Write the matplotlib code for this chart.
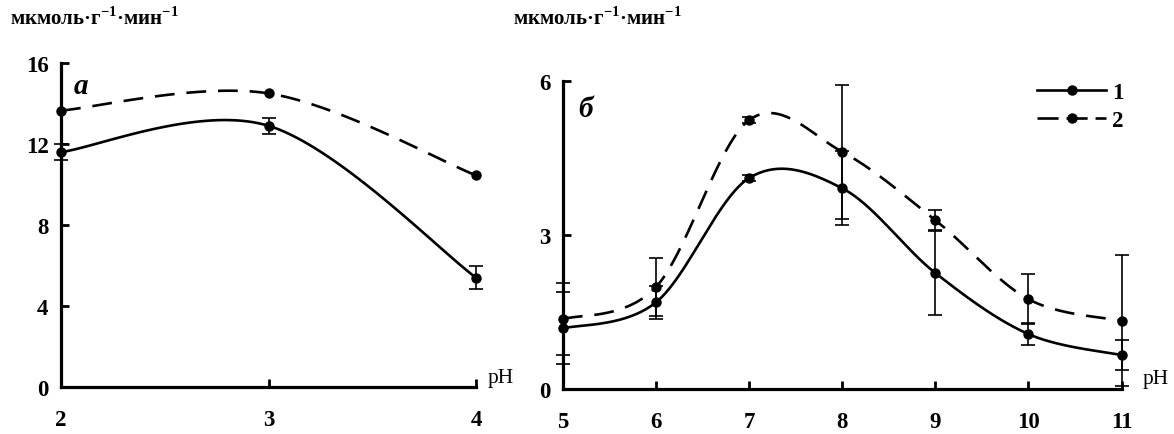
import numpy as np
import matplotlib
matplotlib.use('Agg')
from matplotlib import pyplot as plt

plt.rcParams['font.family'] = ['Liberation Serif', 'DejaVu Serif']
plt.rcParams['mathtext.fontset'] = 'custom'
plt.rcParams['mathtext.rm'] = 'Liberation Serif:bold'
plt.rcParams['mathtext.bf'] = 'Liberation Serif:bold'

# panel a: pH 2-4
ph_a = [2, 3, 4]
a1 = [11.6, 12.9, 5.4]
a1_err = [0.4, 0.4, 0.58]
a2 = [13.65, 14.5, 10.45]

# panel b: pH 5-11
ph_b = [5, 6, 7, 8, 9, 10, 11]
b1 = [1.18, 1.69, 4.11, 3.91, 2.26, 1.07, 0.66]
b1_err = [0.7, 0.32, 0.05, 0.72, 0.81, 0.21, 0.29]
b2 = [1.36, 1.99, 5.24, 4.62, 3.29, 1.75, 1.33]
b2_err = [0.7, 0.57, 0.05, 1.3, 0.2, 0.49, 1.28]

ylabel = 'мкмоль·г$^{-1}$·мин$^{-1}$'


def smooth(xs, ys, n=40):
    # excel-like bezier smoothing
    p = np.column_stack([xs, ys]).astype(float)
    p = np.vstack([p[0], p, p[-1]])
    out = []
    t = np.linspace(0, 1, n)[:, None]
    for i in range(1, len(p) - 2):
        p0, p3 = p[i], p[i + 1]
        c1 = p0 + (p[i + 1] - p[i - 1]) / 6
        c2 = p3 - (p[i + 2] - p[i]) / 6
        seg = ((1 - t) ** 3) * p0 + 3 * ((1 - t) ** 2) * t * c1 + 3 * (1 - t) * t ** 2 * c2 + t ** 3 * p3
        out.append(seg)
    out = np.vstack(out)
    return out[:, 0], out[:, 1]


def style(ax, xlim, ylim, yticks):
    ax.set_xlim(*xlim)
    ax.set_ylim(*ylim)
    ax.set_yticks(yticks)
    ax.set_xticks(range(xlim[0], xlim[1] + 1))
    for s in ['top', 'right']:
        ax.spines[s].set_visible(False)
    for s in ['left', 'bottom']:
        ax.spines[s].set_linewidth(2.3)
    ax.tick_params(direction='in', length=6, width=2)
    ax.tick_params(axis='x', pad=16)
    ax.tick_params(axis='y', pad=9)
    for lab in ax.get_xticklabels() + ax.get_yticklabels():
        lab.set_fontsize(16.5)
        lab.set_fontweight('bold')
    ax.patch.set_visible(False)


def draw(ax, x, y1, e1, y2, e2):
    sx, sy = smooth(x, y1)
    ax.plot(sx, sy, color='black', lw=1.9, clip_on=False, zorder=3)
    sx, sy = smooth(x, y2)
    ax.plot(sx, sy, color='black', lw=1.9, dashes=(7.5, 4.5), clip_on=False, zorder=3)
    ax.plot(x, y1, 'o', color='black', ms=6.5, clip_on=False, zorder=4)
    ax.plot(x, y2, 'o', color='black', ms=6.5, clip_on=False, zorder=4)
    ax.errorbar(x, y1, yerr=e1, fmt='none', ecolor='black', elinewidth=1.2,
                capsize=5, capthick=1.2, clip_on=False, zorder=2)
    if e2 is not None:
        ax.errorbar(x, y2, yerr=e2, fmt='none', ecolor='black', elinewidth=1.2,
                    capsize=5, capthick=1.2, clip_on=False, zorder=2)


fig = plt.figure(figsize=(11.74, 4.35), dpi=100)

ax1 = fig.add_axes([61 / 1174, 47 / 435, 415 / 1174, 324 / 435])
draw(ax1, ph_a, a1, a1_err, a2, None)
style(ax1, (2, 4), (0, 16), [0, 4, 8, 12, 16])
ax1.text(0.03, 0.93, 'а', transform=ax1.transAxes, fontsize=21,
         fontweight='bold', style='italic', va='center')
ax1.text(1.06, 0.03, 'pH', transform=ax1.transAxes, fontsize=15.5, va='center', ha='center')

ax2 = fig.add_axes([563 / 1174, 45 / 435, 558.5 / 1174, 308 / 435])
draw(ax2, ph_b, b1, b1_err, b2, b2_err)
style(ax2, (5, 11), (0, 6), [0, 3, 6])
ax2.text(0.028, 0.91, 'б', transform=ax2.transAxes, fontsize=21,
         fontweight='bold', style='italic', va='center')
ax2.text(1.062, 0.035, 'pH', transform=ax2.transAxes, fontsize=15.5, va='center', ha='center')

h1, = ax2.plot([], [], '-o', color='black', lw=1.9, ms=6.5)
h2, = ax2.plot([], [], 'o', color='black', lw=1.9, ms=6.5, ls=(0, (8, 3)))
leg = ax2.legend([h1, h2], ['1', '2'], loc='upper right', bbox_to_anchor=(1.04, 1.065),
                 frameon=False, handlelength=3.0, handletextpad=0.25,
                 labelspacing=0.3, prop={'size': 16.5, 'weight': 'bold'})

fig.text(10 / 1174, 1 - 18 / 435, ylabel, fontsize=15, fontweight='bold', va='center')
fig.text(513 / 1174, 1 - 18 / 435, ylabel, fontsize=15, fontweight='bold', va='center')

fig.savefig('out.png', dpi=100)
